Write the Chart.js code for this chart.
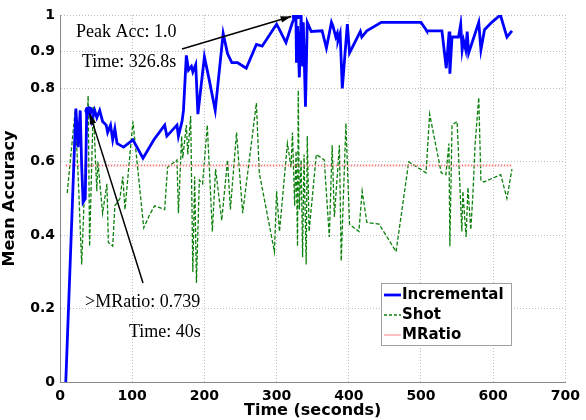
<!DOCTYPE html>
<html>
<head>
<meta charset="utf-8">
<script src="https://cdn.jsdelivr.net/npm/chart.js@4.4.0/dist/chart.umd.min.js"></script>
<style>
    body { margin: 0; background: #fff; }
</style>
</head>
<body>
<canvas id="chart" width="586" height="420"></canvas>
<script>
"use strict";

// Incremental run (blue)
let incTime = [8, 22, 25, 28, 30, 32, 35, 37, 40, 44, 48, 51, 55, 59, 64, 66, 70, 73, 76, 79,
    88, 101, 115, 130, 145, 148, 162, 164, 169, 171, 175, 178, 182, 184, 188, 191, 200, 206, 215, 226,
    232, 238, 246, 258, 272, 280, 300, 304, 313, 322, 326.8, 327.5, 329, 331.5, 334, 336, 337, 340, 342.5, 348,
    363, 369, 376, 378, 382, 384, 385, 388, 391, 398, 401, 416, 418, 425, 445, 487, 500, 507, 508, 529,
    535, 539, 540, 543, 552, 555, 557, 559, 562, 564, 566, 580, 583, 588, 598, 610, 619, 626];
let incAcc = [0, 0.745, 0.64, 0.74, 0.59, 0.49, 0.50, 0.74, 0.739, 0.71, 0.74, 0.72, 0.74, 0.71, 0.70, 0.68, 0.70, 0.66, 0.69, 0.65,
    0.64, 0.66, 0.61, 0.66, 0.70, 0.67, 0.70, 0.67, 0.71, 0.74, 0.89, 0.85, 0.86, 0.845, 0.865, 0.73, 0.886, 0.83, 0.74, 0.95,
    0.895, 0.87, 0.87, 0.855, 0.92, 0.915, 0.975, 0.96, 0.925, 0.98, 1.0, 0.87, 0.97, 0.83, 1.0, 0.86, 0.98, 0.75, 0.98, 0.955,
    0.957, 0.91, 0.98, 0.97, 0.94, 0.95, 0.93, 0.95, 0.80, 0.975, 0.897, 0.955, 0.94, 0.957, 0.98, 0.98, 0.98, 0.96, 0.957, 0.957,
    0.855, 0.955, 0.84, 0.94, 0.94, 0.975, 0.905, 0.93, 0.905, 0.955, 0.896, 0.98, 0.905, 0.96, 0.98, 1.0, 0.94, 0.957];

// Shot run (green dashed)
let shotTime = [10, 21, 26, 30, 39, 41, 46, 51, 52.5, 59, 65, 67, 73, 76, 83, 87, 90, 101, 116, 124,
    131, 145, 149, 162, 164, 168.5, 170, 175, 177, 181, 184, 186.5, 189, 193, 197.5, 204, 211, 215.5, 224, 232,
    236, 244.5, 253, 272, 276, 297, 300, 304, 315, 320, 322, 325, 327, 329, 330, 331.5, 334, 336, 338, 341,
    342.5, 345, 355, 366, 373, 377, 380, 387, 389.5, 396, 401, 414, 418.5, 425, 442, 465.5, 483, 507, 512, 528,
    534.5, 538.7, 540, 543, 550, 556.6, 558, 561, 562.5, 565, 569, 572, 575, 580, 583, 587, 610.5, 619, 626];
let shotAcc = [0.515, 0.74, 0.52, 0.32, 0.78, 0.37, 0.75, 0.52, 0.60, 0.46, 0.54, 0.38, 0.37, 0.48, 0.50, 0.56, 0.47, 0.71, 0.42, 0.455,
    0.48, 0.47, 0.585, 0.605, 0.46, 0.67, 0.61, 0.70, 0.62, 0.725, 0.30, 0.56, 0.27, 0.55, 0.54, 0.70, 0.41, 0.58, 0.44, 0.605,
    0.47, 0.68, 0.46, 0.76, 0.57, 0.355, 0.52, 0.41, 0.65, 0.585, 0.68, 0.48, 0.63, 0.37, 0.795, 0.47, 0.605, 0.34, 0.62, 0.32,
    0.67, 0.41, 0.62, 0.605, 0.395, 0.645, 0.45, 0.645, 0.33, 0.705, 0.43, 0.41, 0.52, 0.435, 0.43, 0.355, 0.60, 0.57, 0.73, 0.57,
    0.565, 0.65, 0.37, 0.70, 0.71, 0.41, 0.52, 0.435, 0.395, 0.53, 0.415, 0.515, 0.65, 0.775, 0.55, 0.545, 0.565, 0.50, 0.58];

// MRatio reference level
let mratioTime = [8, 626];
let mratioAcc = [0.59, 0.59];

let yTicks = [0, 0.2, 0.4, 0.6, 0.8, 0.9, 1];

let peakTime = 326.8, peakAcc = 1.0;
let hitTime = 40, hitAcc = 0.739;

function toPoints(xs, ys) {
    return xs.map(function (x, i) { return {x: x, y: ys[i]}; });
}

function arrow(ctx, x1, y1, x2, y2, back) {
    let a = Math.atan2(y2 - y1, x2 - x1);
    x2 -= Math.cos(a) * back;
    y2 -= Math.sin(a) * back;
    ctx.beginPath();
    ctx.moveTo(x1, y1);
    ctx.lineTo(x2, y2);
    ctx.stroke();
    ctx.beginPath();
    ctx.moveTo(x2, y2);
    ctx.lineTo(x2 - 11 * Math.cos(a - 0.3), y2 - 11 * Math.sin(a - 0.3));
    ctx.lineTo(x2 - 11 * Math.cos(a + 0.3), y2 - 11 * Math.sin(a + 0.3));
    ctx.closePath();
    ctx.fill();
}

let extras = {
    id: 'extras',
    afterDraw: function (chart) {
        let ctx = chart.ctx;
        let xs = chart.scales.x, ys = chart.scales.y;
        ctx.save();

        // annotations
        ctx.fillStyle = '#000';
        ctx.strokeStyle = '#000';
        ctx.lineWidth = 1.5;
        ctx.font = '18px "Liberation Serif"';
        ctx.textBaseline = 'alphabetic';
        ctx.textAlign = 'left';
        ctx.fillText('Peak Acc: 1.0', 76, 37);
        ctx.fillText('Time: 326.8s', 82, 67);
        ctx.fillText('>MRatio: 0.739', 85, 307);
        ctx.fillText('Time: 40s', 129, 337);
        arrow(ctx, 182, 49, xs.getPixelForValue(peakTime), ys.getPixelForValue(peakAcc), 5);
        arrow(ctx, 143, 283, xs.getPixelForValue(hitTime), ys.getPixelForValue(hitAcc), 3);

        // legend box
        let lx = 381, ly = 283, lw = 130, lh = 62;
        ctx.fillStyle = '#fff';
        ctx.fillRect(lx, ly, lw, lh);
        ctx.strokeStyle = '#a0a0a0';
        ctx.lineWidth = 1;
        ctx.strokeRect(lx + 0.5, ly + 0.5, lw, lh);
        let items = chart.data.datasets.slice(0, 3);
        ctx.font = 'bold 15px "DejaVu Sans"';
        ctx.textBaseline = 'middle';
        items.forEach(function (ds, i) {
            let yy = ly + 12 + i * 20;
            ctx.strokeStyle = ds.legendColor || ds.borderColor;
            ctx.lineWidth = ds.borderWidth;
            ctx.setLineDash(ds.legendDash || []);
            ctx.beginPath();
            ctx.moveTo(lx + 3, yy);
            ctx.lineTo(lx + 20, yy);
            ctx.stroke();
            ctx.setLineDash([]);
            ctx.fillStyle = '#000';
            ctx.fillText(ds.label, lx + 21, yy);
        });
        ctx.restore();
    }
};

let gridColor = '#bdbdbd';
let tickFont = {family: '"DejaVu Sans"', size: 14, weight: 'bold'};

new Chart(document.getElementById('chart'), {
    type: 'line',
    data: {
        datasets: [{
            label: 'Incremental',
            data: toPoints(incTime, incAcc),
            borderColor: '#0000ff',
            borderWidth: 2.8,
            pointRadius: 0,
            tension: 0,
            order: 1
        }, {
            label: 'Shot',
            data: toPoints(shotTime, shotAcc),
            borderColor: '#0c800c',
            borderWidth: 1.3,
            borderDash: [4, 2],
            legendDash: [3, 2],
            pointRadius: 0,
            tension: 0,
            order: 3
        }, {
            label: 'MRatio',
            data: toPoints(mratioTime, mratioAcc),
            borderColor: '#f08080',
            legendColor: '#ffc0c0',
            borderWidth: 2,
            borderDash: [1.5, 1.5],
            pointRadius: 0,
            order: 2
        }, {
            label: 'peak',
            data: [{x: peakTime, y: peakAcc}],
            showLine: false,
            pointStyle: 'rect',
            pointRadius: 5,
            backgroundColor: '#0000ff',
            borderColor: '#0000ff',
            order: 0
        }, {
            label: 'hit',
            data: [{x: hitTime, y: hitAcc}],
            showLine: false,
            pointStyle: 'circle',
            pointRadius: 4,
            backgroundColor: '#0000ff',
            borderColor: '#0000ff',
            order: 0
        }]
    },
    options: {
        responsive: false,
        animation: false,
        layout: {padding: {top: 15, right: 19, left: 0, bottom: 0}},
        plugins: {legend: {display: false}, tooltip: {enabled: false}},
        scales: {
            x: {
                type: 'linear',
                min: 0,
                max: 700,
                ticks: {stepSize: 100, color: '#000', font: tickFont, padding: 6, maxRotation: 0},
                grid: {color: gridColor, drawTicks: false},
                border: {color: '#888', width: 1, dash: [1, 2]},
                title: {display: true, text: 'Time (seconds)', color: '#000',
                    font: {family: '"DejaVu Sans"', size: 16, weight: 'bold'}, padding: 0},
                afterFit: function (s) { s.height = 38; }
            },
            y: {
                min: 0,
                max: 1,
                afterBuildTicks: function (s) { s.ticks = yTicks.map(function (v) { return {value: v}; }); },
                ticks: {color: '#000', font: tickFont, padding: 5,
                    callback: function (v) { return String(v); }},
                grid: {color: gridColor, drawTicks: false},
                border: {color: '#888', width: 1, dash: [1, 2]},
                title: {display: true, text: 'Mean Accuracy', color: '#000',
                    font: {family: '"DejaVu Sans"', size: 16, weight: 'bold'}, padding: {top: 0, bottom: 10}},
                afterFit: function (s) { s.width = 60; }
            }
        }
    },
    plugins: [extras]
});
</script>
</body>
</html>
